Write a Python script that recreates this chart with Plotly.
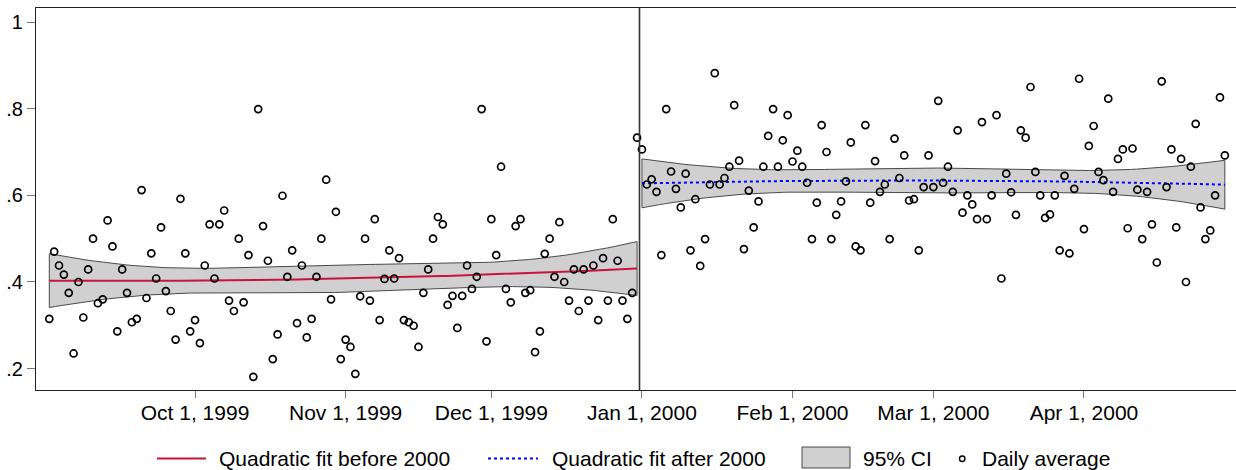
import numpy as np
import pandas as pd
import plotly.graph_objects as go

# ---------------- data ----------------
start_pre = "1999-09-01"
start_post = "2000-01-01"

pre_values = [
    0.315, 0.470, 0.438, 0.417, 0.375, 0.235, 0.400, 0.318, 0.429, 0.500,
    0.351, 0.360, 0.542, 0.482, 0.286, 0.429, 0.375, 0.307, 0.315, 0.612,
    0.363, 0.466, 0.408, 0.526, 0.379, 0.333, 0.267, 0.592, 0.466, 0.286,
    0.312, 0.259, 0.438, 0.533, 0.408, 0.533, 0.565, 0.357, 0.333, 0.500,
    0.353, 0.462, 0.181, 0.799, 0.529, 0.449, 0.222, 0.279, 0.599, 0.412,
    0.473, 0.305, 0.438, 0.272, 0.315, 0.412, 0.500, 0.636, 0.360, 0.562,
    0.222, 0.267, 0.250, 0.188, 0.367, 0.500, 0.357, 0.545, 0.312, 0.407,
    0.473, 0.408, 0.455, 0.312, 0.307, 0.299, 0.250, 0.375, 0.429, 0.500,
    0.550, 0.533, 0.347, 0.368, 0.294, 0.368, 0.438, 0.384, 0.412, 0.799,
    0.263, 0.545, 0.462, 0.666, 0.384, 0.353, 0.529, 0.545, 0.375, 0.381,
    0.238, 0.286, 0.465, 0.500, 0.412, 0.538, 0.400, 0.357, 0.429, 0.333,
    0.429, 0.357, 0.438, 0.312, 0.455, 0.357, 0.545, 0.449, 0.357, 0.315,
    0.375, 0.733,
]

post_values = [
    0.706, 0.625, 0.637, 0.608, 0.462, 0.799, 0.655, 0.615, 0.572, 0.650,
    0.473, 0.591, 0.437, 0.499, 0.625, 0.882, 0.625, 0.640, 0.666, 0.808,
    0.680, 0.476, 0.611, 0.526, 0.586, 0.666, 0.737, 0.799, 0.666, 0.727,
    0.785, 0.678, 0.703, 0.666, 0.629, 0.499, 0.583, 0.762, 0.700, 0.499,
    0.555, 0.586, 0.632, 0.722, 0.482, 0.473, 0.762, 0.583, 0.679, 0.608,
    0.625, 0.499, 0.731, 0.640, 0.692, 0.588, 0.591, 0.473, 0.619, 0.692,
    0.619, 0.818, 0.629, 0.666, 0.608, 0.750, 0.560, 0.600, 0.579, 0.545,
    0.769, 0.545, 0.600, 0.785, 0.408, 0.650, 0.607, 0.555, 0.750, 0.733,
    0.850, 0.654, 0.600, 0.548, 0.556, 0.600, 0.473, 0.645, 0.466, 0.615,
    0.869, 0.522, 0.714, 0.760, 0.654, 0.635, 0.823, 0.608, 0.684, 0.706,
    0.524, 0.708, 0.613, 0.499, 0.608, 0.533, 0.445, 0.863, 0.619, 0.706,
    0.526, 0.684, 0.400, 0.666, 0.765, 0.572, 0.499, 0.519, 0.600, 0.826,
    0.692,
]

tick_dates = ["1999-10-01", "1999-11-01", "1999-12-01", "2000-01-01",
              "2000-02-01", "2000-03-01", "2000-04-01"]
tick_labels = ["Oct 1, 1999", "Nov 1, 1999", "Dec 1, 1999", "Jan 1, 2000",
               "Feb 1, 2000", "Mar 1, 2000", "Apr 1, 2000"]
y_ticks = [0.2, 0.4, 0.6, 0.8, 1.0]
y_tick_labels = [".2", ".4", ".6", ".8", "1"]
cutoff = "1999-12-31 12:00"

legend_labels = ["Quadratic fit before 2000", "Quadratic fit after 2000",
                 "95% CI", "Daily average"]

pre_dates = pd.date_range(start_pre, periods=len(pre_values), freq="D")
post_dates = pd.date_range(start_post, periods=len(post_values), freq="D")


def qfitci(dates, vals, npts=100, tcrit=1.98):
    t = np.asarray((dates - dates[0]) / pd.Timedelta(days=1), dtype=float)
    y = np.asarray(vals, dtype=float)
    X = np.column_stack([np.ones_like(t), t, t ** 2])
    beta, *_ = np.linalg.lstsq(X, y, rcond=None)
    resid = y - X @ beta
    s2 = resid @ resid / (len(y) - 3)
    xtxi = np.linalg.inv(X.T @ X)
    tg = np.linspace(t[0], t[-1], npts)
    G = np.column_stack([np.ones_like(tg), tg, tg ** 2])
    yhat = G @ beta
    se = np.sqrt(s2 * np.einsum("ij,jk,ik->i", G, xtxi, G))
    gd = dates[0] + pd.to_timedelta(tg, unit="D")
    return list(gd), yhat, yhat - tcrit * se, yhat + tcrit * se


FONT = "Liberation Sans, Arial, sans-serif"
fig = go.Figure()

fits = []
for d, v in [(pre_dates, pre_values), (post_dates, post_values)]:
    gd, yh, lo, hi = qfitci(d, v)
    fits.append((gd, yh))
    fig.add_trace(go.Scatter(
        x=gd + gd[::-1] + [gd[0]],
        y=list(hi) + list(lo[::-1]) + [hi[0]],
        mode="lines", fill="toself", fillcolor="#d0d0d0",
        line=dict(color="#4a4a4a", width=1), hoverinfo="skip"))

fig.add_trace(go.Scatter(x=fits[0][0], y=fits[0][1], mode="lines",
                         line=dict(color="#c8143c", width=2)))
fig.add_trace(go.Scatter(x=fits[1][0], y=fits[1][1], mode="lines",
                         line=dict(color="#0000ff", width=2, dash="dot")))

fig.add_trace(go.Scatter(
    x=list(pre_dates) + list(post_dates), y=pre_values + post_values,
    mode="markers",
    marker=dict(symbol="circle-open", size=7, color="black",
                line=dict(width=1.7, color="black"))))

# geometry helpers for the manual legend (plot area: x 36..1236, y 8..390 px)
L, R, T, B = 36, 1236, 8, 390
def px(x):
    return (x - L) / (R - L)
def py(y):
    return (B - y) / (B - T)

shapes = [
    dict(type="line", xref="x", yref="paper", x0=cutoff, x1=cutoff, y0=0, y1=1,
         line=dict(color="#333333", width=1.6), layer="above"),
    dict(type="line", xref="paper", yref="paper", x0=px(157), x1=px(206),
         y0=py(458.5), y1=py(458.5), line=dict(color="#c8143c", width=2)),
    dict(type="line", xref="paper", yref="paper", x0=px(488), x1=px(538),
         y0=py(458.5), y1=py(458.5), line=dict(color="#0000ff", width=2, dash="dot")),
    dict(type="rect", xref="paper", yref="paper", x0=px(802), x1=px(850),
         y0=py(468), y1=py(447), fillcolor="#d0d0d0",
         line=dict(color="#4a4a4a", width=1)),
    dict(type="circle", xref="paper", yref="paper", x0=px(959.5), x1=px(965),
         y0=py(461.5), y1=py(456), line=dict(color="black", width=1.4)),
]

annotations = []
for xpos, txt in zip([217, 550, 861, 980], legend_labels):
    annotations.append(dict(xref="paper", yref="paper", x=px(xpos), y=py(458),
                            text=txt, showarrow=False, xanchor="left",
                            yanchor="middle",
                            font=dict(family=FONT, size=21, color="black")))

fig.update_layout(
    width=1236, height=470,
    margin=dict(l=L, r=0, t=T, b=470 - B, pad=0),
    paper_bgcolor="white", plot_bgcolor="white",
    showlegend=False,
    shapes=shapes, annotations=annotations,
    font=dict(family=FONT, size=21, color="black"),
    xaxis=dict(type="date", range=["1999-08-29 06:15", "2000-05-02 07:12"],
               tickvals=tick_dates, ticktext=tick_labels,
               ticks="outside", ticklen=7, tickwidth=1.3, tickcolor="#777777",
               showline=True, linecolor="#222222", linewidth=1.3, mirror=True,
               showgrid=False, zeroline=False, ticklabelstandoff=-3,
               tickfont=dict(family=FONT, size=21, color="black")),
    yaxis=dict(range=[0.1507, 1.0323], tickvals=y_ticks, ticktext=y_tick_labels,
               ticks="outside", ticklen=8, tickwidth=1.3, tickcolor="#777777",
               showline=True, linecolor="#222222", linewidth=1.3,
               showgrid=False, zeroline=False,
               tickfont=dict(family=FONT, size=20, color="black")),
)

fig.write_html("out.html")
